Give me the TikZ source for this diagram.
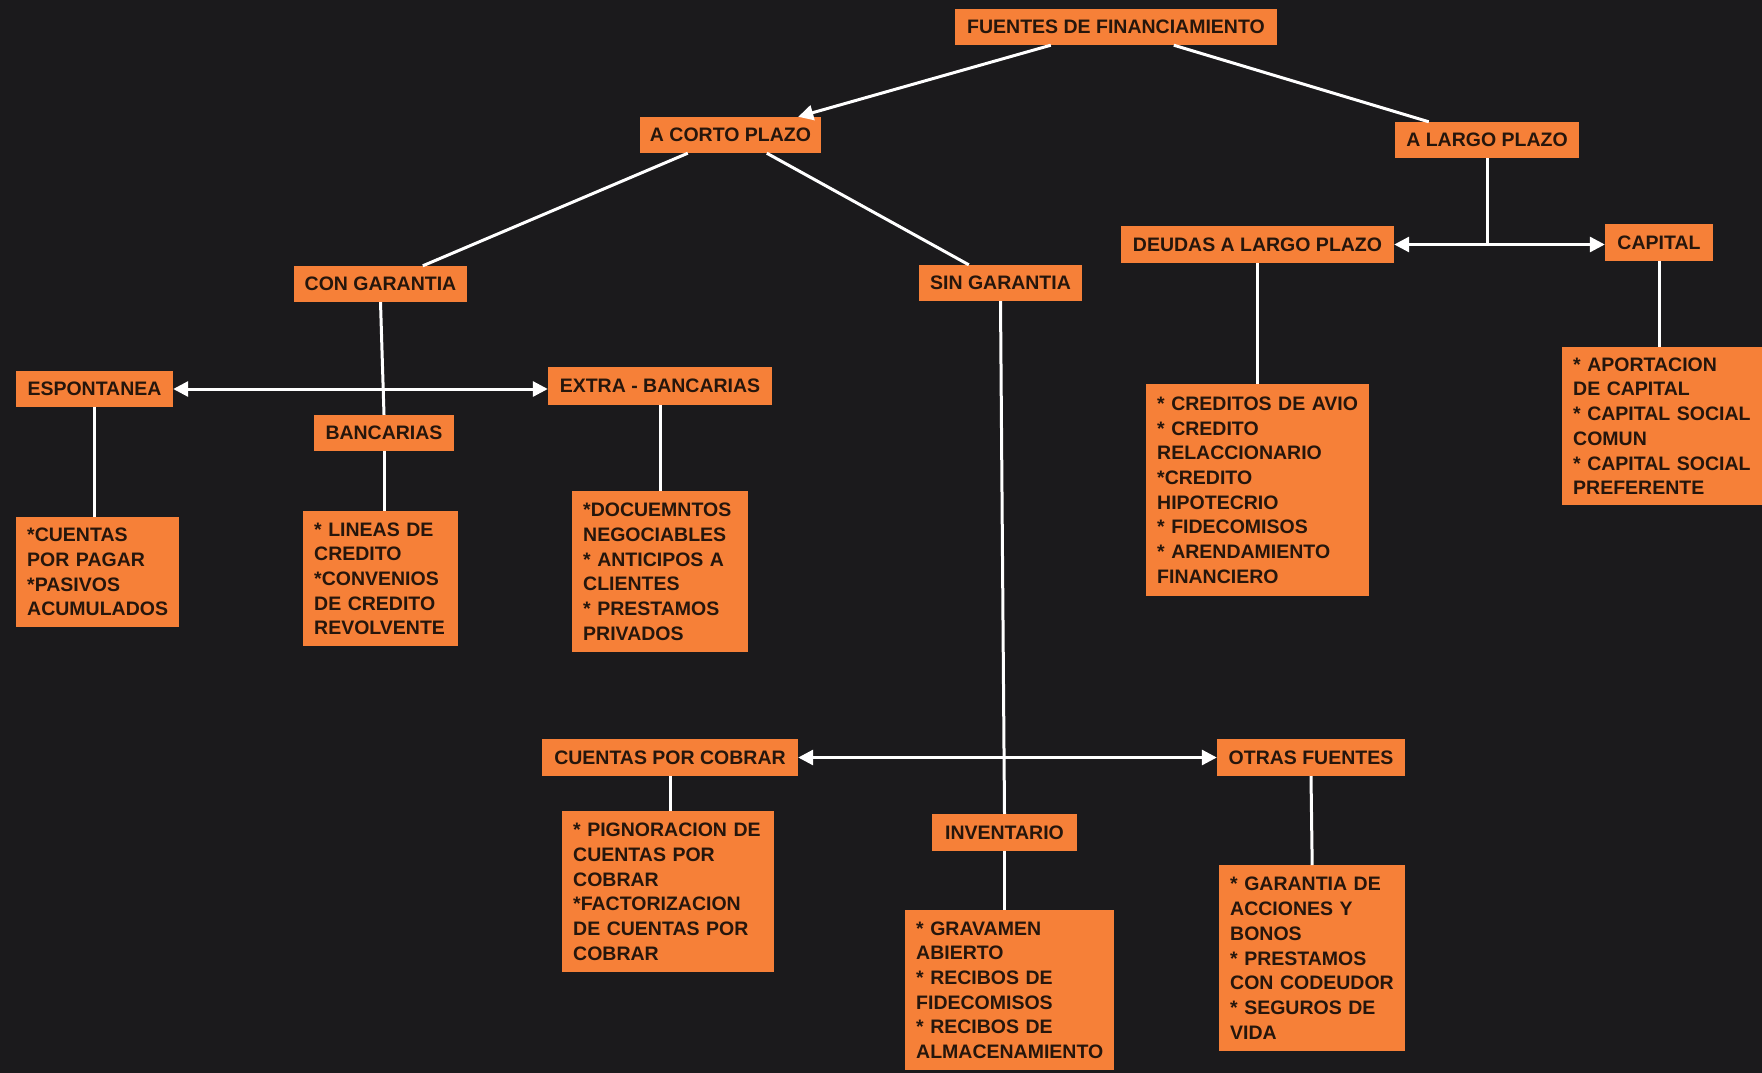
\documentclass[tikz,border=0pt]{standalone}
\usepackage{fontspec}
\setmainfont{Liberation Sans}
\usetikzlibrary{arrows.meta,calc}
\definecolor{bgc}{RGB}{27,26,28}
\definecolor{boxc}{RGB}{246,128,56}
\definecolor{txtc}{RGB}{38,22,12}
\begin{document}
\begin{tikzpicture}[x=1pt,y=-1pt,
 box/.style={fill=boxc, text=txtc, font=\fontsize{19.5}{24.7}\selectfont\bfseries, inner sep=0pt, draw=none},
 lbl/.style={box, align=center},
 lst/.style={box, anchor=north west, align=left, inner xsep=11pt},
 conn/.style={draw=white, line width=3pt},
 tip/.style={-{Triangle[length=15pt,width=15pt]}},
 tips/.style={{Triangle[length=15pt,width=15pt]}-{Triangle[length=15pt,width=15pt]}},
]
\fill[bgc] (0,0) rectangle (1762,1073);
\useasboundingbox (0,0) rectangle (1762,1073);

% single-line boxes
\node[lbl, minimum width=322pt, minimum height=36pt] (fuentes) at (1116,27) {FUENTES DE FINANCIAMIENTO};
\node[lbl, minimum width=181pt, minimum height=36pt] (corto) at (730.5,135) {A CORTO PLAZO};
\node[lbl, minimum width=184pt, minimum height=36pt] (largo) at (1487,140) {A LARGO PLAZO};
\node[lbl, minimum width=173pt, minimum height=36pt] (congar) at (380.5,284) {CON GARANTIA};
\node[lbl, minimum width=163pt, minimum height=36pt] (singar) at (1000.5,283) {SIN GARANTIA};
\node[lbl, minimum width=273pt, minimum height=37pt] (deudas) at (1257.5,244.5) {DEUDAS A LARGO PLAZO};
\node[lbl, minimum width=108pt, minimum height=37pt] (capital) at (1659,242.5) {CAPITAL};
\node[lbl, minimum width=157pt, minimum height=36pt] (espont) at (94.5,389) {ESPONTANEA};
\node[lbl, minimum width=224pt, minimum height=38pt] (extra) at (660,386) {EXTRA - BANCARIAS};
\node[lbl, minimum width=140pt, minimum height=36pt] (bancarias) at (384,433) {BANCARIAS};
\node[lbl, minimum width=256pt, minimum height=37pt] (cxc) at (670,757.5) {CUENTAS POR COBRAR};
\node[lbl, minimum width=188pt, minimum height=37pt] (otras) at (1311,757.5) {OTRAS FUENTES};
\node[lbl, minimum width=145pt, minimum height=37pt] (invent) at (1004.5,832.5) {INVENTARIO};

% list boxes
\node[lst, text width=141pt, minimum height=110pt] (cuentas) at (16,517)
 {\mbox{*CUENTAS}\\\mbox{POR PAGAR}\\\mbox{*PASIVOS}\\\mbox{ACUMULADOS}};
\node[lst, text width=133pt, minimum height=135pt] (lineas) at (303,511)
 {\mbox{* LINEAS DE}\\\mbox{CREDITO}\\\mbox{*CONVENIOS}\\\mbox{DE CREDITO}\\\mbox{REVOLVENTE}};
\node[lst, text width=154pt, minimum height=161pt] (docs) at (572,491)
 {\mbox{*DOCUEMNTOS}\\\mbox{NEGOCIABLES}\\\mbox{* ANTICIPOS A}\\\mbox{CLIENTES}\\\mbox{* PRESTAMOS}\\\mbox{PRIVADOS}};
\node[lst, text width=201pt, minimum height=212pt] (creditos) at (1146,384)
 {\mbox{* CREDITOS DE AVIO}\\\mbox{* CREDITO}\\\mbox{RELACCIONARIO}\\\mbox{*CREDITO}\\\mbox{HIPOTECRIO}\\\mbox{* FIDECOMISOS}\\\mbox{* ARENDAMIENTO}\\\mbox{FINANCIERO}};
\node[lst, text width=178pt, minimum height=158pt] (aport) at (1562,347)
 {\mbox{* APORTACION}\\\mbox{DE CAPITAL}\\\mbox{* CAPITAL SOCIAL}\\\mbox{COMUN}\\\mbox{* CAPITAL SOCIAL}\\\mbox{PREFERENTE}};
\node[lst, text width=190pt, minimum height=161pt] (pign) at (562,811)
 {\mbox{* PIGNORACION DE}\\\mbox{CUENTAS POR}\\\mbox{COBRAR}\\\mbox{*FACTORIZACION}\\\mbox{DE CUENTAS POR}\\\mbox{COBRAR}};
\node[lst, text width=187pt, minimum height=160pt] (grav) at (905,910)
 {\mbox{* GRAVAMEN}\\\mbox{ABIERTO}\\\mbox{* RECIBOS DE}\\\mbox{FIDECOMISOS}\\\mbox{* RECIBOS DE}\\\mbox{ALMACENAMIENTO}};
\node[lst, text width=164pt, minimum height=186pt] (gar) at (1219,865)
 {\mbox{* GARANTIA DE}\\\mbox{ACCIONES Y}\\\mbox{BONOS}\\\mbox{* PRESTAMOS}\\\mbox{CON CODEUDOR}\\\mbox{* SEGUROS DE}\\\mbox{VIDA}};

% connectors
\draw[conn, tip] ([xshift=96pt]fuentes.south west) -- ([xshift=-23pt]corto.north east);
\draw[conn] ([xshift=219pt]fuentes.south west) -- ([xshift=34pt]largo.north west);
\draw[conn] ([xshift=48pt]corto.south west) -- ([xshift=129pt]congar.north west);
\draw[conn] ([xshift=127pt]corto.south west) -- ([xshift=50pt]singar.north west);
\draw[conn] (congar.south) -- (bancarias.north);
\draw[conn, tips] (espont.east) -- (espont.east -| extra.west);
\draw[conn] (espont.south) -- (espont.south |- cuentas.north);
\draw[conn] (bancarias.south) -- (bancarias.south |- lineas.north);
\draw[conn] (extra.south) -- (extra.south |- docs.north);
\draw[conn] (largo.south) -- (largo.south |- deudas.east);
\draw[conn, tips] (deudas.east) -- (deudas.east -| capital.west);
\draw[conn] (deudas.south) -- (deudas.south |- creditos.north);
\draw[conn] (capital.south) -- (capital.south |- aport.north);
\draw[conn] (singar.south) -- (invent.north);
\draw[conn, tips] (cxc.east) -- (otras.west);
\draw[conn] (cxc.south) -- (cxc.south |- pign.north);
\draw[conn] (invent.south) -- (invent.south |- grav.north);
\draw[conn] (otras.south) -- (gar.north);
\end{tikzpicture}
\end{document}
